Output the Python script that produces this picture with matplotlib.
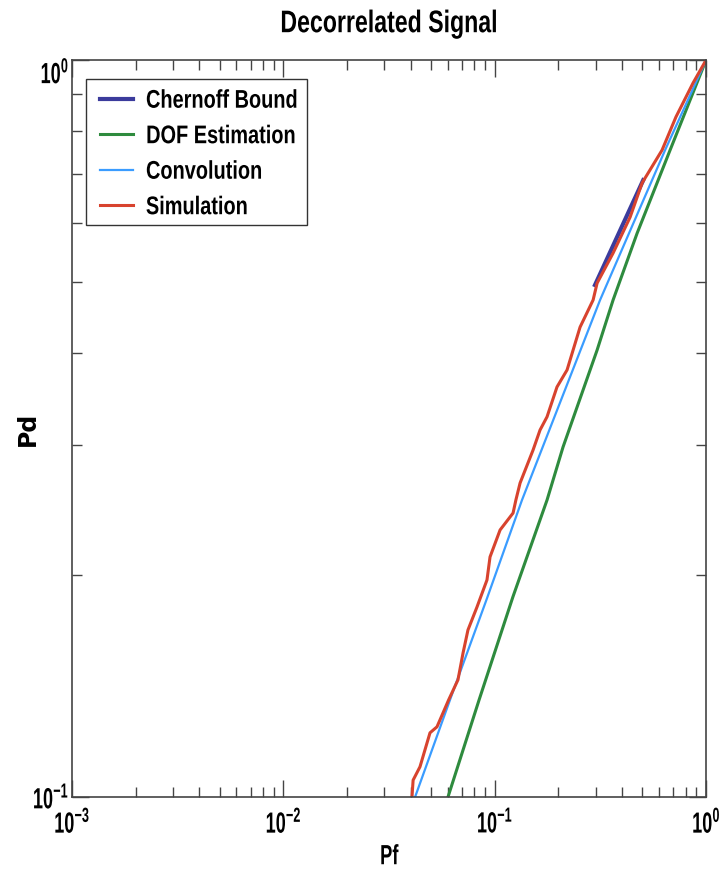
import matplotlib
matplotlib.use("Agg")
import matplotlib.pyplot as plt
from matplotlib import font_manager
from matplotlib.patches import Rectangle
from matplotlib.patheffects import AbstractPathEffect
from matplotlib.transforms import Affine2D
from matplotlib.ticker import LogLocator, NullFormatter

# ---- data ----
chernoff_pf = [0.298, 0.3875, 0.504]
chernoff_pd = [0.495, 0.583, 0.687]

dof_pf = [0.0601, 0.0843, 0.122, 0.1768, 0.2105, 0.305, 0.363, 0.4716, 0.6755, 1.0]
dof_pd = [0.100, 0.1354, 0.187, 0.2529, 0.2985, 0.404, 0.4724, 0.582, 0.7547, 1.0]

conv_pf = [0.0420, 0.0614, 0.0919, 0.1346, 0.315, 0.6397, 1.0]
conv_pd = [0.100, 0.1354, 0.186, 0.2529, 0.4724, 0.7547, 1.0]

sim_pf = [0.0406, 0.0411, 0.0443, 0.0494, 0.0533, 0.0569, 0.0605, 0.0670, 0.0708,
          0.0747, 0.0824, 0.0919, 0.0950, 0.106, 0.1221, 0.1259, 0.1318, 0.1518,
          0.1638, 0.1768, 0.197, 0.2199, 0.2533, 0.292, 0.305, 0.363, 0.437,
          0.498, 0.619, 0.72, 0.868, 1.0]
sim_pd = [0.100, 0.1054, 0.1099, 0.1222, 0.1245, 0.130, 0.1354, 0.1442, 0.1568,
          0.1685, 0.181, 0.197, 0.2117, 0.2303, 0.2428, 0.2529, 0.2667, 0.2956,
          0.3147, 0.328, 0.360, 0.3797, 0.434, 0.4724, 0.498, 0.547, 0.612,
          0.681, 0.7547, 0.837, 0.931, 1.0]

labels = ["Chernoff Bound", "DOF Estimation", "Convolution", "Simulation"]
colors = ["#3b3b9c", "#2e8b3e", "#3a9cff", "#d8432e"]


# ---- condensed-text helper (horizontal squeeze of glyph outlines) ----
class Condense(AbstractPathEffect):
    def __init__(self, sx=0.8, anchor=0.5):
        super().__init__()
        self.sx = sx
        self.anchor = anchor

    def draw_path(self, renderer, gc, tpath, affine, rgbFace=None):
        ext = tpath.get_extents()
        x0 = ext.x0 + self.anchor * (ext.x1 - ext.x0)
        t = Affine2D().translate(-x0, 0).scale(self.sx, 1).translate(x0, 0) + affine
        renderer.draw_path(gc, tpath, t, rgbFace)


def has_font(name):
    try:
        font_manager.findfont(name, fallback_to_default=False)
        return True
    except Exception:
        return False


if has_font("Liberation Sans Narrow"):
    base = "Liberation Sans Narrow"
    k = 1.0 / 0.82
else:
    base = "Liberation Sans"
    k = 1.0


def sq(v):
    return min(1.0, v * k)


plt.rcParams["font.family"] = [base, "DejaVu Sans"]
plt.rcParams["font.weight"] = "bold"
plt.rcParams["mathtext.fontset"] = "custom"
plt.rcParams["mathtext.rm"] = base + ":bold"
plt.rcParams["mathtext.it"] = base + ":bold"
plt.rcParams["mathtext.bf"] = base + ":bold"
plt.rcParams["mathtext.default"] = "rm"

fig = plt.figure(figsize=(7.22, 8.82), dpi=100)
ax = fig.add_axes([0.0997, 0.0964, 0.8783, 0.8356])

ax.plot(chernoff_pf, chernoff_pd, color=colors[0], lw=3.0, label=labels[0], zorder=2)
ax.plot(dof_pf, dof_pd, color=colors[1], lw=2.2, label=labels[1], zorder=2)
ax.plot(conv_pf, conv_pd, color=colors[2], lw=1.6, label=labels[2], zorder=2)
ax.plot(sim_pf, sim_pd, color=colors[3], lw=2.2, label=labels[3], zorder=2)

ax.set_xscale("log")
ax.set_yscale("log")
ax.set_xlim(1e-3, 1)
ax.set_ylim(0.1, 1)

ax.xaxis.set_major_locator(LogLocator(base=10, numticks=10))
ax.xaxis.set_minor_locator(LogLocator(base=10, subs=range(2, 10), numticks=10))
ax.yaxis.set_major_locator(LogLocator(base=10, numticks=10))
ax.yaxis.set_minor_locator(LogLocator(base=10, subs=range(2, 10), numticks=10))
ax.yaxis.set_minor_formatter(NullFormatter())
ax.xaxis.set_minor_formatter(NullFormatter())

ax.tick_params(which="both", direction="in", top=True, right=True, color="#444444")
ax.tick_params(which="major", length=12, width=1.0, labelsize=21)
ax.tick_params(which="minor", length=7, width=1.0)
ax.tick_params(axis="x", which="major", pad=9)
ax.tick_params(axis="y", which="major", pad=2)
for s in ax.spines.values():
    s.set_color("#444444")
    s.set_linewidth(1.2)

ttl = ax.set_title("Decorrelated Signal", fontsize=22.5, fontweight="bold", pad=20)
ttl.set_path_effects([Condense(sq(0.74), 0.5)])
xl = ax.set_xlabel("Pf", fontsize=20, fontweight="bold", labelpad=4)
xl.set_path_effects([Condense(sq(0.66), 0.5)])
ax.set_ylabel("Pd", fontsize=17, fontweight="bold", family="DejaVu Sans")
ax.yaxis.set_label_coords(-0.0505, 0.5)

# legend frame drawn as a plain rectangle (square corners)
ax.add_patch(Rectangle((0.0221, 0.776), 0.3486, 0.198, transform=ax.transAxes,
                       facecolor="white", edgecolor="#333333", lw=1.0, zorder=4))
leg = ax.legend(loc="upper left", bbox_to_anchor=(0.0289, 0.9742), fontsize=18.4,
                frameon=False, handlelength=1.29, handletextpad=0.5, borderpad=0.38,
                labelspacing=0.45, borderaxespad=0)
leg.set_zorder(5)
for t in leg.get_texts():
    t.set_path_effects([Condense(sq(0.78), 0.0)])

fig.canvas.draw()
for tk in ax.xaxis.get_major_ticks():
    tk.label1.set_path_effects([Condense(sq(0.62), 0.5)])
for tk in ax.yaxis.get_major_ticks():
    tk.label1.set_path_effects([Condense(sq(0.62), 1.0)])
    if abs(tk.get_loc() - 1.0) < 1e-9:
        tk.label1.set_va("top")

fig.savefig("out.png", dpi=100)
